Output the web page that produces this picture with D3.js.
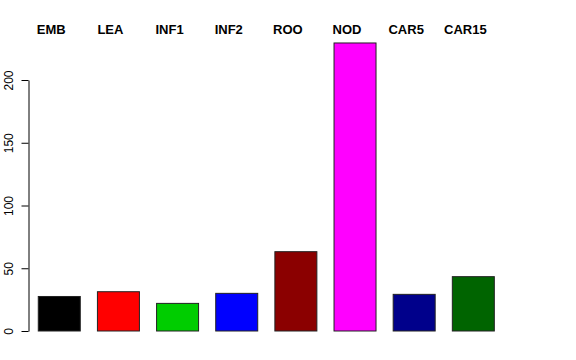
<!DOCTYPE html>
<html><head><meta charset="utf-8">
<script src="https://cdn.jsdelivr.net/npm/d3@7"></script>
<style>body{margin:0;background:#fff}svg{display:block}</style>
</head><body>
<svg id="c" width="576" height="360"></svg>
<script>
const categories = ["EMB","LEA","INF1","INF2","ROO","NOD","CAR5","CAR15"];
const values = [27.5, 31.3, 22, 30, 63.2, 229.5, 29.2, 43.3];
const colors = ["#000000","#FF0000","#00CD00","#0000FF","#8B0000","#FF00FF","#00008B","#006400"];
const yTicks = [0, 50, 100, 150, 200];

const svg = d3.select("#c");
const x = d3.scaleBand().domain(categories).range([29.7, 502.9]).paddingInner(0.29).paddingOuter(0.145);
const y = d3.scaleLinear().domain([0, 200]).range([331, 80]);

svg.selectAll("rect.bar").data(categories).join("rect")
  .attr("class","bar")
  .attr("x", d => x(d))
  .attr("width", x.bandwidth())
  .attr("y", (d,i) => y(values[i]))
  .attr("height", (d,i) => y(0) - y(values[i]))
  .attr("fill", (d,i) => colors[i])
  .attr("stroke", "#222")
  .attr("stroke-width", 1);

const ax = svg.append("g").attr("transform","translate(28.5,0)")
  .call(d3.axisLeft(y).tickValues(yTicks).tickSize(7).tickPadding(8).tickSizeOuter(0));
ax.select(".domain").attr("stroke","#000");
ax.selectAll(".tick line").attr("stroke","#000");
ax.selectAll(".tick text")
  .attr("font-family","Liberation Sans, Arial, sans-serif")
  .attr("font-size", 12).attr("fill","#000")
  .attr("transform", function(){ return null; })
  .each(function(d){
    const t = d3.select(this);
    t.attr("x", null).attr("dy", null).attr("text-anchor","middle")
     .attr("transform", `translate(-15.5,${0}) rotate(-90)`);
  });

svg.selectAll("text.lab").data(categories).join("text")
  .attr("class","lab")
  .attr("x", d => x(d) + x.bandwidth()/2 - 8)
  .attr("y", 34)
  .attr("text-anchor","middle")
  .attr("font-family","Liberation Sans, Arial, sans-serif")
  .attr("font-weight","bold")
  .attr("font-size", 13)
  .text(d => d);
</script>
</body></html>
